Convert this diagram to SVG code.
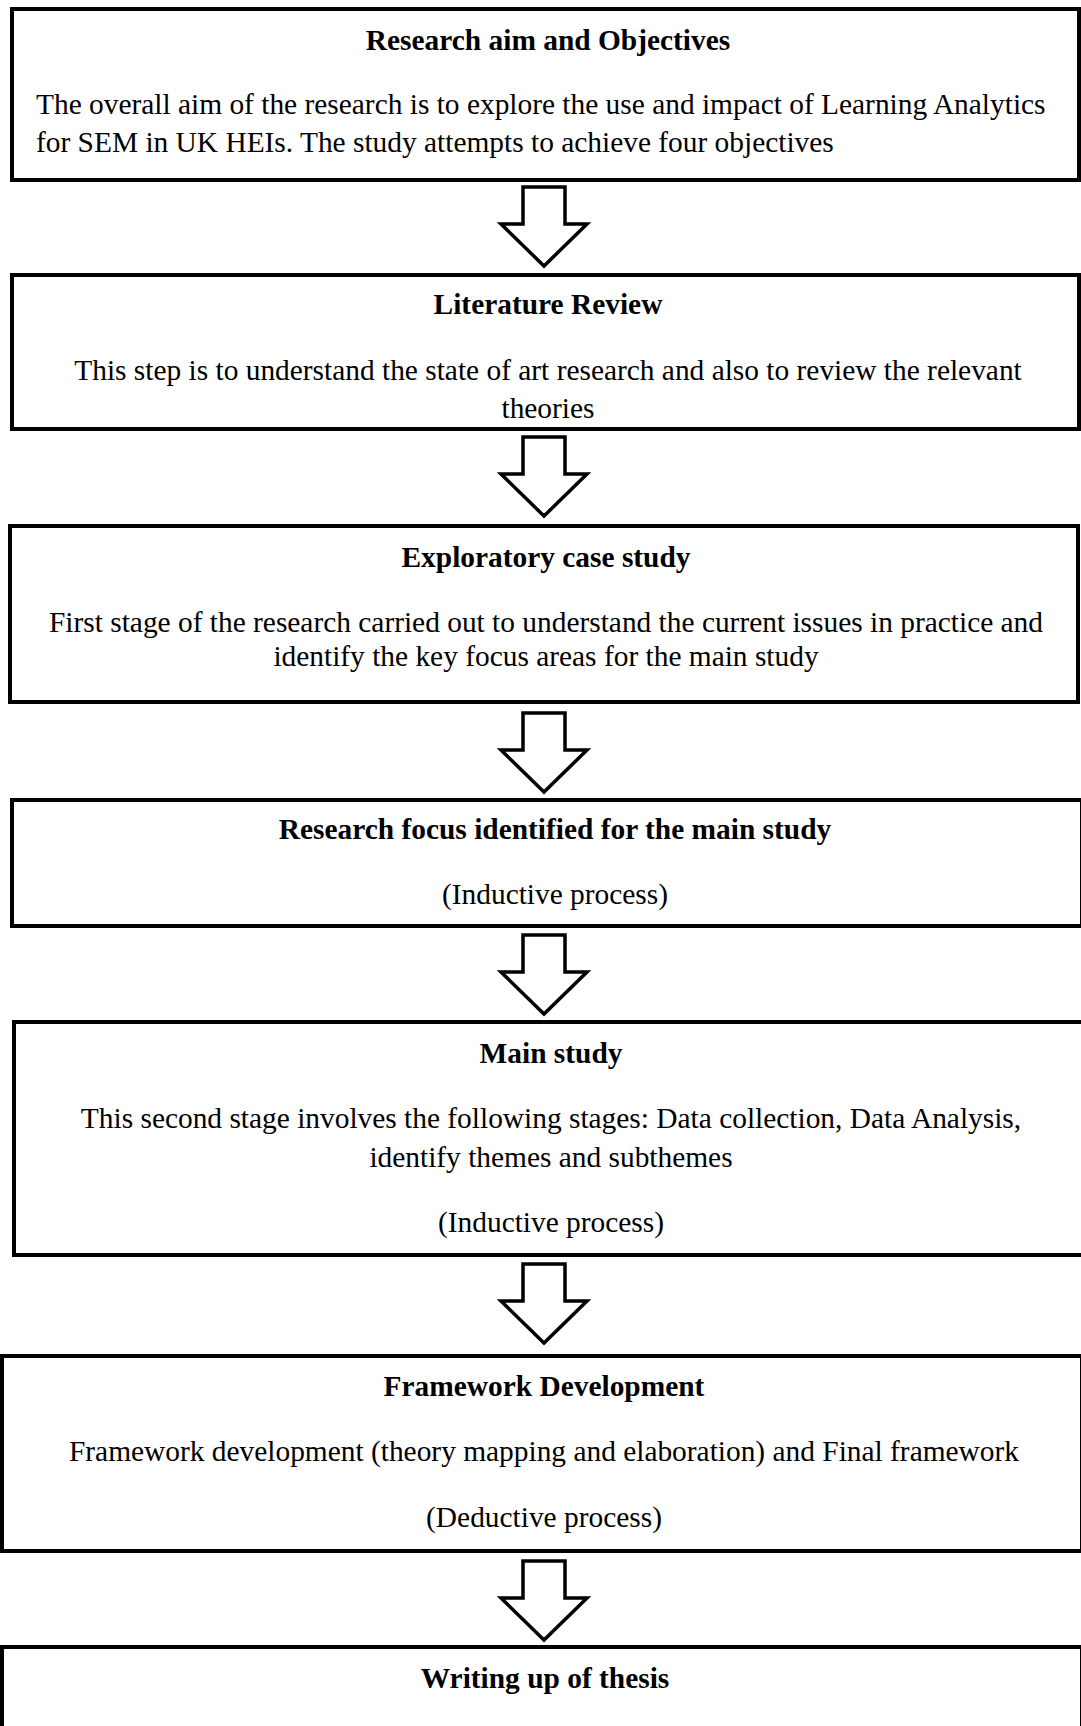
<svg xmlns="http://www.w3.org/2000/svg" width="1081" height="1726" viewBox="0 0 1081 1726">
<style>
.box{fill:#fff;stroke:#000;stroke-width:4}
.arr{fill:#fff;stroke:#000;stroke-width:3.5;stroke-linejoin:miter}
text{font-family:"Liberation Serif","Times New Roman",serif;font-size:29.4px;fill:#000}
.t{font-weight:bold;text-anchor:middle}
.c{text-anchor:middle}
</style>
<defs>
<polygon id="arrow" points="523,0 565,0 565,37 587,37 544,79 501,37 523,37"/>
</defs>
<rect width="1081" height="1726" fill="#fff"/>
<g id="connectors">
<use href="#arrow" class="arr" transform="translate(0,187)"/>
<use href="#arrow" class="arr" transform="translate(0,437)"/>
<use href="#arrow" class="arr" transform="translate(0,713)"/>
<use href="#arrow" class="arr" transform="translate(0,935)"/>
<use href="#arrow" class="arr" transform="translate(0,1264)"/>
<use href="#arrow" class="arr" transform="translate(0,1561)"/>
</g>
<g id="node1">
<rect class="box" x="12" y="9" width="1067" height="171"/>
<text class="t" x="548" y="50">Research aim and Objectives</text>
<text x="36" y="114">The overall aim of the research is to explore the use and impact of Learning Analytics</text>
<text x="36" y="152">for SEM in UK HEIs. The study attempts to achieve four objectives</text>
</g>
<g id="node2">
<rect class="box" x="12" y="275" width="1067" height="154"/>
<text class="t" x="548" y="314">Literature Review</text>
<text class="c" x="548" y="380">This step is to understand the state of art research and also to review the relevant</text>
<text class="c" x="548" y="418">theories</text>
</g>
<g id="node3">
<rect class="box" x="10" y="526" width="1068" height="176"/>
<text class="t" x="546" y="567">Exploratory case study</text>
<text class="c" x="546" y="632">First stage of the research carried out to understand the current issues in practice and</text>
<text class="c" x="546" y="666">identify the key focus areas for the main study</text>
</g>
<g id="node4">
<rect class="box" x="12" y="800" width="1070" height="126"/>
<text class="t" x="555" y="839">Research focus identified for the main study</text>
<text class="c" x="555" y="904">(Inductive process)</text>
</g>
<g id="node5">
<rect class="box" x="14" y="1022" width="1070" height="233"/>
<text class="t" x="551" y="1063">Main study</text>
<text class="c" x="551" y="1128">This second stage involves the following stages: Data collection, Data Analysis,</text>
<text class="c" x="551" y="1167">identify themes and subthemes</text>
<text class="c" x="551" y="1232">(Inductive process)</text>
</g>
<g id="node6">
<rect class="box" x="2" y="1356" width="1080" height="195"/>
<text class="t" x="544" y="1396">Framework Development</text>
<text class="c" x="544" y="1461">Framework development (theory mapping and elaboration) and Final framework</text>
<text class="c" x="544" y="1527">(Deductive process)</text>
</g>
<g id="node7">
<rect class="box" x="2" y="1647" width="1080" height="100"/>
<text class="t" x="545" y="1688">Writing up of thesis</text>
</g>
</svg>
